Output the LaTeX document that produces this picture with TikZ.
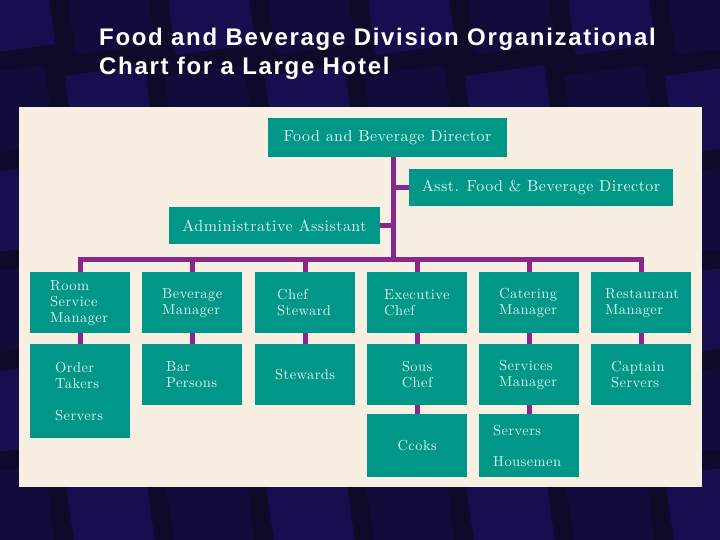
\documentclass[tikz,border=0pt]{standalone}
\usepackage{fontspec}
\newfontfamily\titlefont{Liberation Sans}[LetterSpace=7]
\newfontfamily\chartfont{lmroman10-regular.otf}[LetterSpace=3]
\definecolor{nightblue}{RGB}{13,10,42}
\definecolor{tileblue}{RGB}{46,22,170}
\definecolor{panelbeige}{RGB}{246,239,226}
\definecolor{boxteal}{RGB}{0,150,136}
\definecolor{boxtext}{RGB}{228,246,240}
\definecolor{linkpurple}{RGB}{139,38,139}
\tikzset{
    head/.style={fill=boxteal, text=boxtext, inner sep=0pt, align=center,
        font=\chartfont\fontsize{16}{19}\selectfont},
    unit/.style={fill=boxteal, text=boxtext, anchor=north west, inner ysep=0pt,
        inner xsep=20pt, text width=60pt, align=left, minimum height=61pt,
        font=\chartfont\fontsize{14.5}{16}\selectfont},
    link/.style={draw=linkpurple, line width=5pt}
}
\begin{document}
\begin{tikzpicture}[x=1pt,y=-1pt]
    \useasboundingbox (0,0) rectangle (720,540);
    % backdrop
    \fill[nightblue] (0,0) rectangle (720,540);
    \foreach \i in {0,...,7}
        \foreach \j in {0,...,5}{
            \pgfmathsetmacro\shade{mod(\i+\j,2)==0 ? 30 : 14}
            \fill[tileblue!\shade!nightblue, rotate around={8:(\i*100+10,\j*100+10)}]
                (\i*100-30,\j*100-30) rectangle ++(80,80);
            \fill[tileblue!\shade!nightblue, opacity=0.6, rotate around={8:(\i*100+10,\j*100+10)}]
                (\i*100-20,\j*100-20) rectangle ++(60,60);
        }
    \node[font=\titlefont\bfseries\fontsize{24}{29}\selectfont, text=white,
        anchor=base west, align=left, inner sep=0pt] (title) at (99,75)
        {Food and Beverage Division Organizational\\Chart for a Large Hotel};
    \fill[panelbeige] (19,107) rectangle (702,487);
    % top of the chart
    \node[head, minimum width=239pt, minimum height=39pt] (dir) at (387.5,137.5) {Food and Beverage Director};
    \node[head, minimum width=264pt, minimum height=37pt] (asst) at (541,187.5) {Asst. Food \& Beverage Director};
    \node[head, minimum width=211pt, minimum height=37pt] (admin) at (274.5,225.5) {Administrative Assistant};
    \coordinate (trunk) at (393,259);
    % managers
    \node[unit] (rsm) at (30,272) {Room\\Service\\Manager};
    \node[unit] (bev) at (142,272) {Beverage\\Manager};
    \node[unit, inner xsep=22pt, text width=56pt] (chs) at (255,272) {Chef\\Steward};
    \node[unit, inner xsep=17pt, text width=66pt] (exc) at (367,272) {Executive\\Chef};
    \node[unit] (cat) at (479,272) {Catering\\Manager};
    \node[unit, inner xsep=14pt, text width=72pt] (res) at (591,272) {Restaurant\\Manager};
    % staff
    \node[unit, inner xsep=25pt, text width=50pt, minimum height=94pt] (ord) at (30,344) {Order\\Takers\\[16pt]Servers};
    \node[unit, inner xsep=24pt, text width=52pt] (bar) at (142,344) {Bar\\Persons};
    \node[unit, align=center] (stw) at (255,344) {Stewards};
    \node[unit, align=center] (sous) at (367,344) {Sous\\Chef};
    \node[unit] (svm) at (479,344) {Services\\Manager};
    \node[unit] (cap) at (591,344) {Captain\\Servers};
    \node[unit, align=center, minimum height=63pt] (cook) at (367,414) {Ccoks};
    \node[unit, inner xsep=14pt, text width=72pt, minimum height=63pt] (hse) at (479,414) {Servers\\[15pt]Housemen};
    % connectors
    \draw[link] ([xshift=5.5pt]dir.south) -- (trunk);
    \draw[link] (asst.west) -- (asst.west -| trunk);
    \draw[link] (admin.east) -- (admin.east -| trunk);
    \draw[link] (rsm.north) -- (rsm.north |- trunk) -- (res.north |- trunk) -- (res.north);
    \foreach \n in {bev,chs,exc,cat}
        \draw[link] (\n.north) -- (\n.north |- trunk);
    \draw[link] (rsm.south) -- (ord.north);
    \draw[link] (bev.south) -- (bar.north);
    \draw[link] (chs.south) -- (stw.north);
    \draw[link] (exc.south) -- (sous.north);
    \draw[link] (cat.south) -- (svm.north);
    \draw[link] (res.south) -- (cap.north);
    \draw[link] (sous.south) -- (cook.north);
    \draw[link] (svm.south) -- (hse.north);
\end{tikzpicture}
\end{document}
